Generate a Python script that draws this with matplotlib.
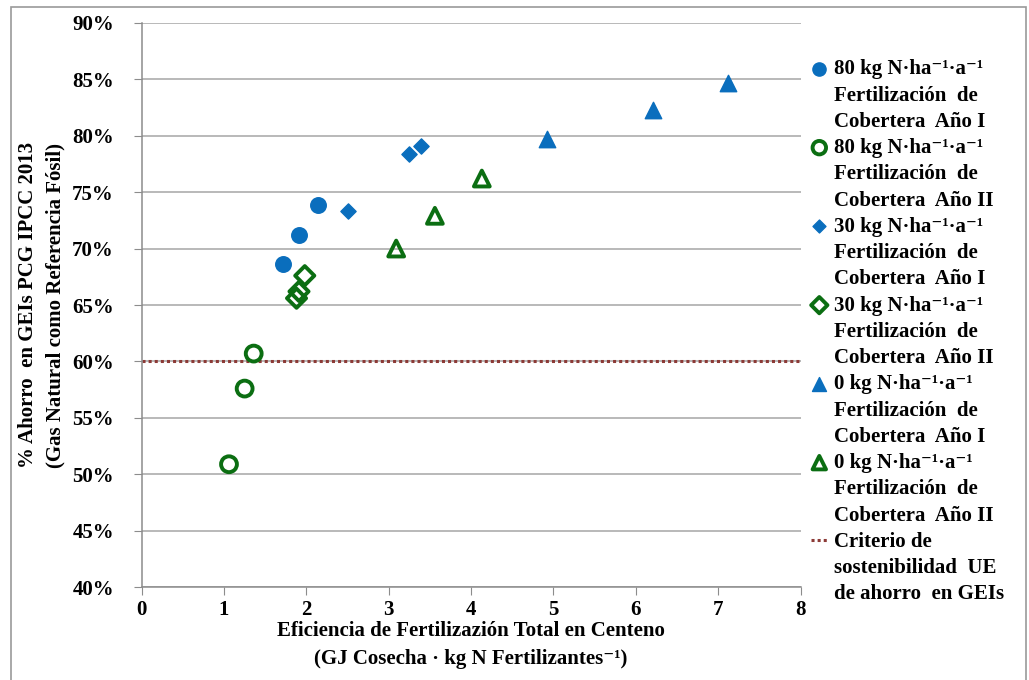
import matplotlib
matplotlib.use("Agg")
import matplotlib.pyplot as plt
from matplotlib.lines import Line2D
from matplotlib.patches import Rectangle
from matplotlib.ticker import FuncFormatter

plt.rcParams['font.family'] = ['Liberation Serif', 'DejaVu Serif']
plt.rcParams['font.weight'] = 'bold'

# data (x = GJ / kg N, y = % saving)
x_80_a1 = [2.14, 1.91, 1.72]
y_80_a1 = [73.9, 71.2, 68.6]
x_80_a2 = [1.36, 1.25, 1.06]
y_80_a2 = [60.7, 57.6, 50.9]
x_30_a1 = [2.50, 3.25, 3.39]
y_30_a1 = [73.3, 78.4, 79.1]
x_30_a2 = [1.98, 1.91, 1.88]
y_30_a2 = [67.6, 66.2, 65.6]
x_0_a1 = [4.92, 6.21, 7.12]
y_0_a1 = [79.7, 82.3, 84.7]
x_0_a2 = [3.09, 3.56, 4.13]
y_0_a2 = [70.0, 72.9, 76.2]
criterio = 60.0

labels = [
    ["80 kg N·ha⁻¹·a⁻¹", "Fertilización  de", "Cobertera  Año I"],
    ["80 kg N·ha⁻¹·a⁻¹", "Fertilización  de", "Cobertera  Año II"],
    ["30 kg N·ha⁻¹·a⁻¹", "Fertilización  de", "Cobertera  Año I"],
    ["30 kg N·ha⁻¹·a⁻¹", "Fertilización  de", "Cobertera  Año II"],
    ["0 kg N·ha⁻¹·a⁻¹", "Fertilización  de", "Cobertera  Año I"],
    ["0 kg N·ha⁻¹·a⁻¹", "Fertilización  de", "Cobertera  Año II"],
    ["Criterio de", "sostenibilidad  UE", "de ahorro  en GEIs"],
]

blue = '#0a6ebd'
green = '#0b6e12'
red = '#8c3a36'

fig = plt.figure(figsize=(10.29, 6.80), dpi=100)
ax = fig.add_axes([0.1377, 0.1363, 0.6403, 0.8303])

h = []
h.append(ax.scatter(x_80_a1, y_80_a1, marker='o', s=125, color=blue, zorder=3))
h.append(ax.scatter(x_80_a2, y_80_a2, marker='o', s=130, facecolors='none',
                    edgecolors=green, linewidths=2.8, zorder=3))
h.append(ax.scatter(x_30_a1, y_30_a1, marker='D', s=60, color=blue, zorder=3))
h.append(ax.scatter(x_30_a2, y_30_a2, marker='D', s=95, facecolors='none',
                    edgecolors=green, linewidths=2.8, zorder=3))
h.append(ax.scatter(x_0_a1, y_0_a1, marker='^', s=140, color=blue, zorder=3))
h.append(ax.scatter(x_0_a2, y_0_a2, marker='^', s=130, facecolors='none',
                    edgecolors=green, linewidths=2.8, zorder=3))
line, = ax.plot([0, 8], [criterio, criterio], linestyle=(0, (1, 1)), color=red,
                linewidth=2.2, zorder=2)
h.append(line)

ax.set_xlim(0, 8)
ax.set_ylim(40, 90)
ax.set_xticks(range(0, 9))
ax.set_yticks(range(40, 91, 5))
ax.yaxis.set_major_formatter(FuncFormatter(lambda v, p: f"{int(v)}%"))
ax.grid(axis='y', color='#a6a6a6', linewidth=1.1)
ax.set_axisbelow(True)
for s in ['top', 'right']:
    ax.spines[s].set_visible(False)
for s in ['left', 'bottom']:
    ax.spines[s].set_color('#8c8c8c')
    ax.spines[s].set_linewidth(1.1)
ax.tick_params(axis='x', direction='out', length=6, color='#8c8c8c', labelsize=15, pad=3)
ax.tick_params(axis='y', direction='out', length=6, color='#8c8c8c', labelsize=15, pad=14)
for t in ax.get_xticklabels() + ax.get_yticklabels():
    t.set_fontweight('bold')

ax.set_xlabel("Eficiencia de Fertilizazión Total en Centeno\n(GJ Cosecha · kg N Fertilizantes⁻¹)",
              fontsize=15, fontweight='bold', labelpad=1, linespacing=1.55)
ax.set_ylabel("% Ahorro  en GEIs PCG IPCC 2013\n(Gas Natural como Referencia Fósil)",
              fontsize=15, fontweight='bold', labelpad=5, linespacing=1.5)

# legend: one row per text line, marker only on the first line
blank = Line2D([], [], linestyle='none')
leg_h, leg_l = [], []
for handle, lab in zip(h, labels):
    for i, txt in enumerate(lab):
        leg_h.append(handle if i == 0 else blank)
        leg_l.append(txt)
leg = fig.legend(leg_h, leg_l, loc='upper left', bbox_to_anchor=(0.778, 0.928),
                 frameon=False, labelspacing=0.3, handlelength=0.8,
                 handletextpad=0.3, borderpad=0, markerscale=0.85,
                 prop={'weight': 'bold', 'size': 15})

fig.patches.append(Rectangle((0.011, -0.01), 0.986, 1.0, transform=fig.transFigure,
                             fill=False, edgecolor='#9a9a9a', linewidth=1.2))

fig.savefig('out.png', dpi=100)
